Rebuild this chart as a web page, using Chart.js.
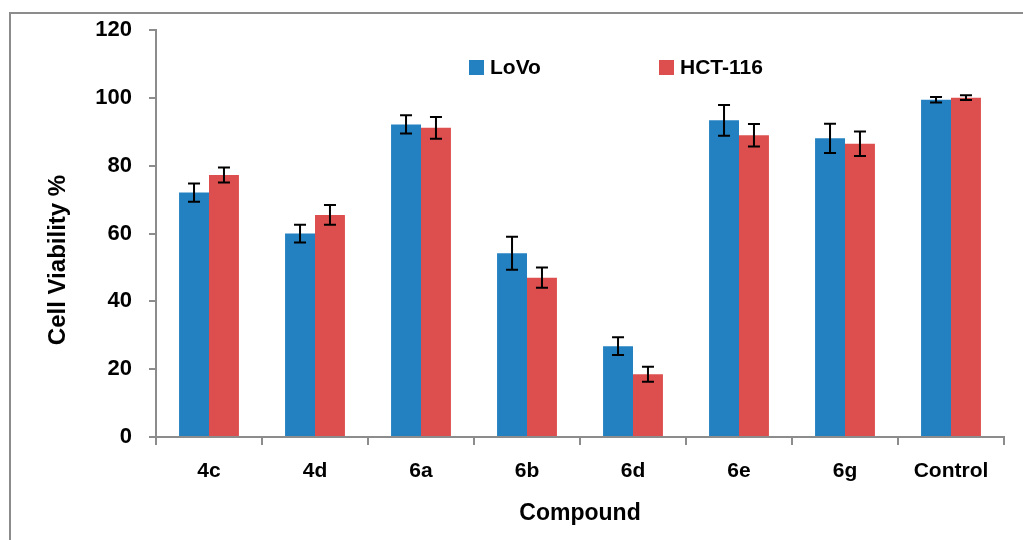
<!DOCTYPE html>
<html>
<head>
<meta charset="utf-8">
<script src="https://cdn.jsdelivr.net/npm/chart.js@4.4.1/dist/chart.umd.min.js"></script>
<style>
  html, body { margin: 0; padding: 0; background: #fff; }
  #wrap { width: 1023px; height: 540px; }
</style>
</head>
<body>
<div id="wrap"><canvas id="myChart" width="1023" height="540"></canvas></div>
<script>
const compounds = ['4c', '4d', '6a', '6b', '6d', '6e', '6g', 'Control'];
const lovo = [72.1, 60.0, 92.2, 54.2, 26.8, 93.4, 88.1, 99.5];
const lovoErr = [2.7, 2.6, 2.7, 4.9, 2.6, 4.5, 4.3, 0.8];
const hct = [77.3, 65.5, 91.2, 47.0, 18.5, 89.0, 86.5, 100.1];
const hctErr = [2.2, 2.9, 3.2, 3.0, 2.2, 3.3, 3.6, 0.7];
const yTicks = [0, 20, 40, 60, 80, 100, 120];

const FONT = "'Liberation Sans', Arial, sans-serif";
const axisGray = '#8c8c8c';

// error bars drawn from the data through the y scale
const errorBars = {
    id: 'errorBars',
    afterDatasetsDraw(chart) {
        const ctx = chart.ctx;
        const y = chart.scales.y;
        ctx.save();
        ctx.strokeStyle = '#000';
        ctx.lineWidth = 2;
        chart.data.datasets.forEach((ds, i) => {
            const meta = chart.getDatasetMeta(i);
            meta.data.forEach((bar, j) => {
                const v = ds.data[j], e = ds.errors[j];
                const top = y.getPixelForValue(v + e);
                const bot = y.getPixelForValue(v - e);
                ctx.beginPath();
                ctx.moveTo(bar.x, top); ctx.lineTo(bar.x, bot);
                ctx.moveTo(bar.x - 6, top); ctx.lineTo(bar.x + 6, top);
                ctx.moveTo(bar.x - 6, bot); ctx.lineTo(bar.x + 6, bot);
                ctx.stroke();
            });
        });
        ctx.restore();
    }
};

// frame, legend and y title
const decor = {
    id: 'decor',
    beforeDraw(chart) {
        const ctx = chart.ctx;
        ctx.save();
        ctx.fillStyle = '#fff';
        ctx.fillRect(0, 0, chart.width, chart.height);
        ctx.strokeStyle = axisGray;
        ctx.lineWidth = 2;
        ctx.beginPath();
        ctx.moveTo(10, chart.height + 5);
        ctx.lineTo(10, 13);
        ctx.lineTo(chart.width + 5, 13);
        ctx.stroke();
        ctx.restore();
    },
    afterDraw(chart) {
        const ctx = chart.ctx;
        ctx.save();
        const legendX = [469, 659];
        chart.data.datasets.forEach((ds, i) => {
            ctx.fillStyle = ds.backgroundColor;
            ctx.fillRect(legendX[i], 60, 15, 15);
            ctx.fillStyle = '#000';
            ctx.font = 'bold 21px ' + FONT;
            ctx.textBaseline = 'middle';
            ctx.textAlign = 'left';
            ctx.fillText(ds.label, legendX[i] + 21, 68);
        });
        ctx.translate(58, 260);
        ctx.rotate(-Math.PI / 2);
        ctx.font = 'bold 24px ' + FONT;
        ctx.textAlign = 'center';
        ctx.textBaseline = 'middle';
        ctx.fillText('Cell Viability %', 0, 0);
        ctx.restore();
    }
};

const ctx = document.getElementById('myChart').getContext('2d');
const myChart = new Chart(ctx, {
    type: 'bar',
    data: {
        labels: compounds,
        datasets: [{
            label: 'LoVo',
            data: lovo,
            errors: lovoErr,
            backgroundColor: 'rgb(35,128,193)',
            borderWidth: 0
        }, {
            label: 'HCT-116',
            data: hct,
            errors: hctErr,
            backgroundColor: 'rgb(220,79,78)',
            borderWidth: 0
        }]
    },
    options: {
        responsive: false,
        animation: false,
        categoryPercentage: 0.565,
        barPercentage: 1,
        layout: { padding: { top: 29, right: 19, bottom: 0, left: 0 } },
        plugins: {
            legend: { display: false },
            tooltip: { enabled: false }
        },
        scales: {
            x: {
                grid: { offset: true, drawOnChartArea: false, color: axisGray, lineWidth: 2, tickLength: 8 },
                border: { display: true, color: axisGray, width: 2 },
                ticks: { color: '#000', padding: 14, font: { family: FONT, size: 21, weight: 'bold' } },
                title: {
                    display: true, text: 'Compound', color: '#000',
                    font: { family: FONT, size: 23, weight: 'bold' },
                    padding: { top: 0, bottom: 13 }
                },
                afterFit(scale) { scale.height = 103; }
            },
            y: {
                min: 0,
                max: 120,
                afterBuildTicks(scale) { scale.ticks = yTicks.map(v => ({ value: v })); },
                grid: { drawOnChartArea: false, color: axisGray, lineWidth: 2, tickLength: 7 },
                border: { display: true, color: axisGray, width: 2 },
                ticks: { color: '#000', padding: 17, font: { family: FONT, size: 22, weight: 'bold' } },
                afterFit(scale) { scale.width = 156; }
            }
        }
    },
    plugins: [decor, errorBars]
});
</script>
</body>
</html>
